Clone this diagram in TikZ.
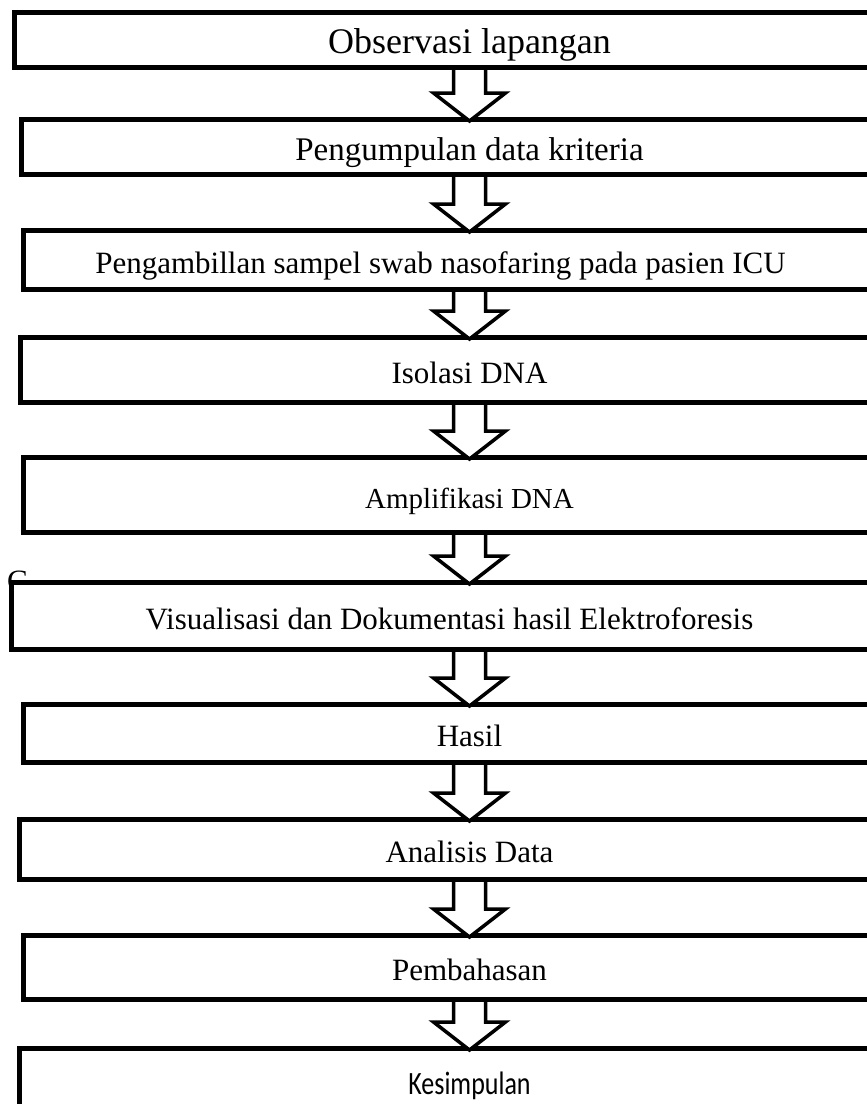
\documentclass[tikz,border=0pt]{standalone}
\usepackage{fontspec}
\setmainfont{Liberation Serif}
\newfontfamily\kesfont{Carlito}
\usetikzlibrary{shapes,arrows,positioning}

\newcommand\flowarrow[2]{%
  \draw[hollow] ([xshift=-16pt]#1.south) -- ([xshift=-16pt,yshift=24pt]#2.north)
    -- ([xshift=-36pt,yshift=24pt]#2.north) -- ([yshift=-4pt]#2.north)
    -- ([xshift=36pt,yshift=24pt]#2.north) -- ([xshift=16pt,yshift=24pt]#2.north)
    -- ([xshift=16pt]#1.south);}

\begin{document}
\begin{tikzpicture}[x=1pt, y=-1pt, font=\fontsize{31}{36}\selectfont]
  \tikzstyle{stepbox} = [draw, rectangle, fill=white, line width=5pt, anchor=north west,
    text height=26pt, text depth=0pt]
  \tikzstyle{hollow} = [draw, fill=white, line width=3.5pt, line join=miter]
  \useasboundingbox (0,0) rectangle (867,1104);
  \clip (0,0) rectangle (867,1104);
  \node[anchor=north west, inner sep=0pt] (stray) at (7,571) {C};
  \node[stepbox, minimum width=910pt, minimum height=55pt, font=\fontsize{36}{40}\selectfont] (obs) at (12,10) {Observasi lapangan};
  \node[stepbox, minimum width=896pt, minimum height=55pt, font=\fontsize{33}{38}\selectfont] (kriteria) at (19,117) {Pengumpulan data kriteria};
  \node[stepbox, minimum width=892pt, minimum height=59pt] (sampel) at (21,228) {\hspace*{-58pt}Pengambillan sampel swab nasofaring pada pasien ICU};
  \node[stepbox, minimum width=898pt, minimum height=65pt] (isolasi) at (18,335) {Isolasi DNA};
  \node[stepbox, minimum width=892pt, minimum height=75pt, font=\fontsize{29}{34}\selectfont] (amplif) at (21,455) {Amplifikasi DNA};
  \node[stepbox, minimum width=916pt, minimum height=67pt] (visual) at (9,580) {\hspace*{-40pt}Visualisasi dan Dokumentasi hasil Elektroforesis};
  \node[stepbox, minimum width=892pt, minimum height=58pt] (hasil) at (21,702) {Hasil};
  \node[stepbox, minimum width=900pt, minimum height=60pt] (analisis) at (17,817) {Analisis Data};
  \node[stepbox, minimum width=892pt, minimum height=64pt] (bahas) at (21,933) {Pembahasan};
  \node[stepbox, minimum width=900pt, minimum height=66pt, font=\fontsize{26}{30}\selectfont] (simpul) at (17,1046) {\scalebox{1}[1.25]{\kesfont Kesimpulan}};
  \flowarrow{obs}{kriteria}
  \flowarrow{kriteria}{sampel}
  \flowarrow{sampel}{isolasi}
  \flowarrow{isolasi}{amplif}
  \flowarrow{amplif}{visual}
  \flowarrow{visual}{hasil}
  \flowarrow{hasil}{analisis}
  \flowarrow{analisis}{bahas}
  \flowarrow{bahas}{simpul}
\end{tikzpicture}
\end{document}
